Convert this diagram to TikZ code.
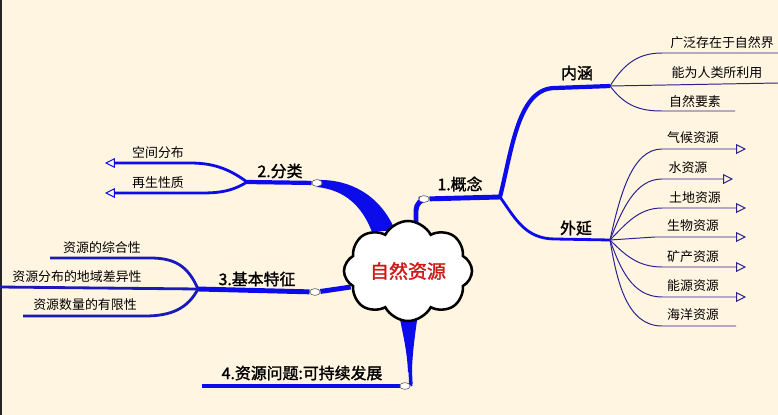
\documentclass[tikz,border=0pt]{standalone}
\usepackage{fontspec}
\usepackage{tikz}
\usetikzlibrary{arrows.meta,positioning,shapes.symbols,shapes.geometric,backgrounds}
\newfontfamily\cjk{Noto Sans CJK SC}
\newfontfamily\cjkb[FakeBold=1.6]{Noto Sans CJK SC}
\definecolor{paperc}{HTML}{FFF5E1}
\definecolor{bigc}{HTML}{0C0CEA}
\definecolor{midc}{HTML}{1A1AB8}
\definecolor{thinc}{HTML}{2B2092}
\definecolor{rootc}{HTML}{D01818}

\begin{document}
\begin{tikzpicture}[x=0.025cm, y=-0.025cm,
  root/.style={cloud, cloud puffs=8, cloud puff arc=125, cloud ignores aspect, draw=black,
    line width=1.8pt, fill=white, minimum width=3.2cm, minimum height=2.5cm, inner sep=0pt,
    font=\cjkb\fontsize{13.5}{15}\selectfont, text=rootc},
  topic/.style={font=\cjkb\fontsize{11.3}{13}\selectfont, inner sep=0pt},
  leaf/.style={font=\cjk\fontsize{9.2}{11}\selectfont, inner sep=0pt},
  big/.style={draw=bigc, line width=3.5pt},
  mid/.style={draw=midc, line width=2pt},
  thin/.style={draw=thinc, line width=0.7pt},
  tip/.style={-{Triangle[open, length=7pt, width=7pt, line width=0.7pt]}},
  knot/.style={ellipse, fill=white, draw=black!70, line width=0.4pt,
    minimum width=2.6mm, minimum height=1.7mm, inner sep=0pt}
]
  \useasboundingbox (0,0) rectangle (778,415);

  \node[root] (root) at (408,271) {自然资源};

  % branch points and knots
  \node[knot] (k1) at (424,199) {};
  \node[knot] (k2) at (317,183) {};
  \node[knot] (k3) at (315,292) {};
  \node[knot] (k4) at (405,386) {};
  \coordinate (j1) at (500,197);
  \coordinate (jn) at (610,86);
  \coordinate (jw) at (610,240);
  \coordinate (j2) at (247,182);
  \coordinate (j3) at (198,289);
  \coordinate (e4) at (202,386);

  % topic labels
  \node[topic] (gn) at (460,184) {1.概念};
  \node[topic] (fl) at (280,171) {2.分类};
  \node[topic] (tz) at (257,279) {3.基本特征};
  \node[topic] (wt) at (302,373) {4.资源问题:可持续发展};
  \node[topic] (nh) at (577,73) {内涵};
  \node[topic] (wy) at (576,228) {外延};

  % leaf labels
  \node[leaf] (n1t) at (722,43) {广泛存在于自然界};
  \node[leaf] (n2t) at (717,73) {能为人类所利用};
  \node[leaf] (n3t) at (695,102) {自然要素};
  \node[leaf] (w1t) at (693,138) {气候资源};
  \node[leaf] (w2t) at (688,168) {水资源};
  \node[leaf] (w3t) at (695,198) {土地资源};
  \node[leaf] (w4t) at (693,226) {生物资源};
  \node[leaf] (w5t) at (693,257) {矿产资源};
  \node[leaf] (w6t) at (693,286) {能源资源};
  \node[leaf] (w7t) at (693,315) {海洋资源};
  \node[leaf] (f1t) at (158,153) {空间分布};
  \node[leaf] (f2t) at (158,183) {再生性质};
  \node[leaf] (t1t) at (102,248) {资源的综合性};
  \node[leaf] (t2t) at (77,277) {资源分布的地域差异性};
  \node[leaf] (t3t) at (85,305) {资源数量的有限性};

  % line ends
  \coordinate (n1) at (778,53);
  \coordinate (n2) at (778,83);
  \coordinate (n3) at (735,111);
  \coordinate (w1) at (746,149);
  \coordinate (w2) at (733,179);
  \coordinate (w3) at (746,208);
  \coordinate (w4) at (746,237);
  \coordinate (w5) at (746,267);
  \coordinate (w6) at (746,297);
  \coordinate (w7) at (736,326);
  \coordinate (f1) at (105,163);
  \coordinate (f2) at (105,193);
  \coordinate (t1) at (50,258);
  \coordinate (t2) at (0,287);
  \coordinate (t3) at (23,316);

  \begin{scope}[on background layer]
    \fill[paperc] (0,0) rectangle (778,415);
    \draw[black!85, line width=1.4pt] (1,0) -- (1,415);

    % 1.概念
    \draw[big, rounded corners=8pt] ([xshift=2mm, yshift=-3mm]root.north) |- (k1) -- (j1);
    \draw[big, line width=3pt] (j1) .. controls (512,150) and (518,88) .. (555,88) -- (jn);
    \draw[mid, draw=bigc] (j1) .. controls (515,218) and (525,239) .. (555,239) -- (jw);
    \draw[thin] (jn) .. controls (625,62) and (640,53) .. (662,53) -- (n1);
    \draw[thin] (jn) -- (n2);
    \draw[thin] (jn) .. controls (625,106) and (640,111) .. (662,111) -- (n3);
    \draw[thin, tip] (jw) .. controls (620,195) and (632,149) .. (662,149) -- (w1);
    \draw[thin, tip] (jw) .. controls (622,210) and (635,179) .. (662,179) -- (w2);
    \draw[thin, tip] (jw) .. controls (625,225) and (638,208) .. (662,208) -- (w3);
    \draw[thin, tip] (jw) -- (655,237) -- (w4);
    \draw[thin, tip] (jw) .. controls (625,255) and (638,267) .. (662,267) -- (w5);
    \draw[thin, tip] (jw) .. controls (620,268) and (632,297) .. (662,297) -- (w6);
    \draw[thin] (jw) .. controls (617,282) and (627,326) .. (662,326) -- (w7);

    % 2.分类
    \fill[bigc] (317,180) .. controls (350,179) and (380,195) .. (395,230)
      -- (372,232) .. controls (362,206) and (345,190) .. (317,187) -- cycle;
    \draw[big, line width=3pt] (k2) -- (j2);
    \draw[mid, draw=bigc, tip] (j2) .. controls (228,168) and (212,163) .. (190,163) -- (f1);
    \draw[mid, draw=bigc, tip] (j2) .. controls (228,194) and (212,193) .. (190,193) -- (f2);

    % 3.基本特征
    \draw[big] ([xshift=2mm, yshift=-4mm]root.west) .. controls (335,290) .. (k3) -- (j3);
    \draw[mid] (j3) .. controls (188,266) and (175,258) .. (150,258) -- (t1);
    \draw[mid] (j3) -- (t2);
    \draw[mid] (j3) .. controls (188,308) and (172,316) .. (145,316) -- (t3);

    % 4.资源问题
    \fill[bigc] (399,314) -- (418,314) .. controls (414,340) and (412,360) .. (412,372)
      -- (408,372) .. controls (407,350) and (403,335) .. (399,314) -- cycle;
    \draw[big, line width=2.5pt] (410,368) .. controls (411,385) .. (k4);
    \draw[big] (k4) -- (e4);
  \end{scope}
\end{tikzpicture}
\end{document}
